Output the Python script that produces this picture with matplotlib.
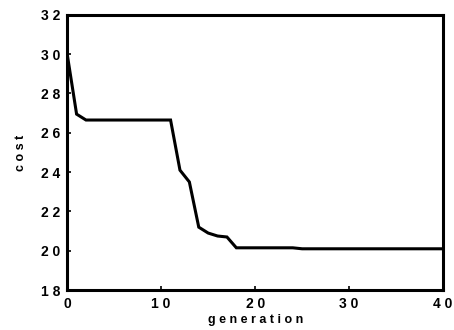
import matplotlib.pyplot as plt

# cost of best individual per generation
generation = [0, 1, 2, 5, 11, 12, 13, 14, 15, 16, 17, 18, 24, 25, 40]
cost = [30.0, 26.95, 26.65, 26.65, 26.65, 24.1, 23.5, 21.2, 20.9, 20.75, 20.7, 20.15, 20.15, 20.1, 20.1]

x_ticks = [0, 10, 20, 30, 40]
y_ticks = [18, 20, 22, 24, 26, 28, 30, 32]

plt.rcParams['font.family'] = ['Liberation Sans', 'DejaVu Sans']
plt.rcParams['font.weight'] = 'bold'


def spaced(v):
    # the scanned labels are letter-spaced
    return ' '.join(str(v))


fig = plt.figure(figsize=(4.54, 3.30), dpi=100)
ax = fig.add_axes([0.148, 0.121, 0.828, 0.834])

ax.plot(generation, cost, color='black', linewidth=2.2, solid_joinstyle='miter')

ax.set_xlim(0, 40)
ax.set_ylim(18, 32)
ax.set_xticks(x_ticks)
ax.set_xticklabels([spaced(v) for v in x_ticks])
ax.set_yticks(y_ticks)
ax.set_yticklabels([spaced(v) for v in y_ticks])
ax.tick_params(direction='in', length=3, width=1.2, labelsize=10, pad=5)
for lab in ax.get_xticklabels() + ax.get_yticklabels():
    lab.set_fontweight('bold')
for s in ax.spines.values():
    s.set_linewidth(2.2)

ax.set_xlabel('g e n e r a t i o n', fontsize=9, fontweight='bold', labelpad=2)
ax.set_ylabel('c o s t', fontsize=9, fontweight='bold', labelpad=10)

fig.savefig('out.png', dpi=100)
